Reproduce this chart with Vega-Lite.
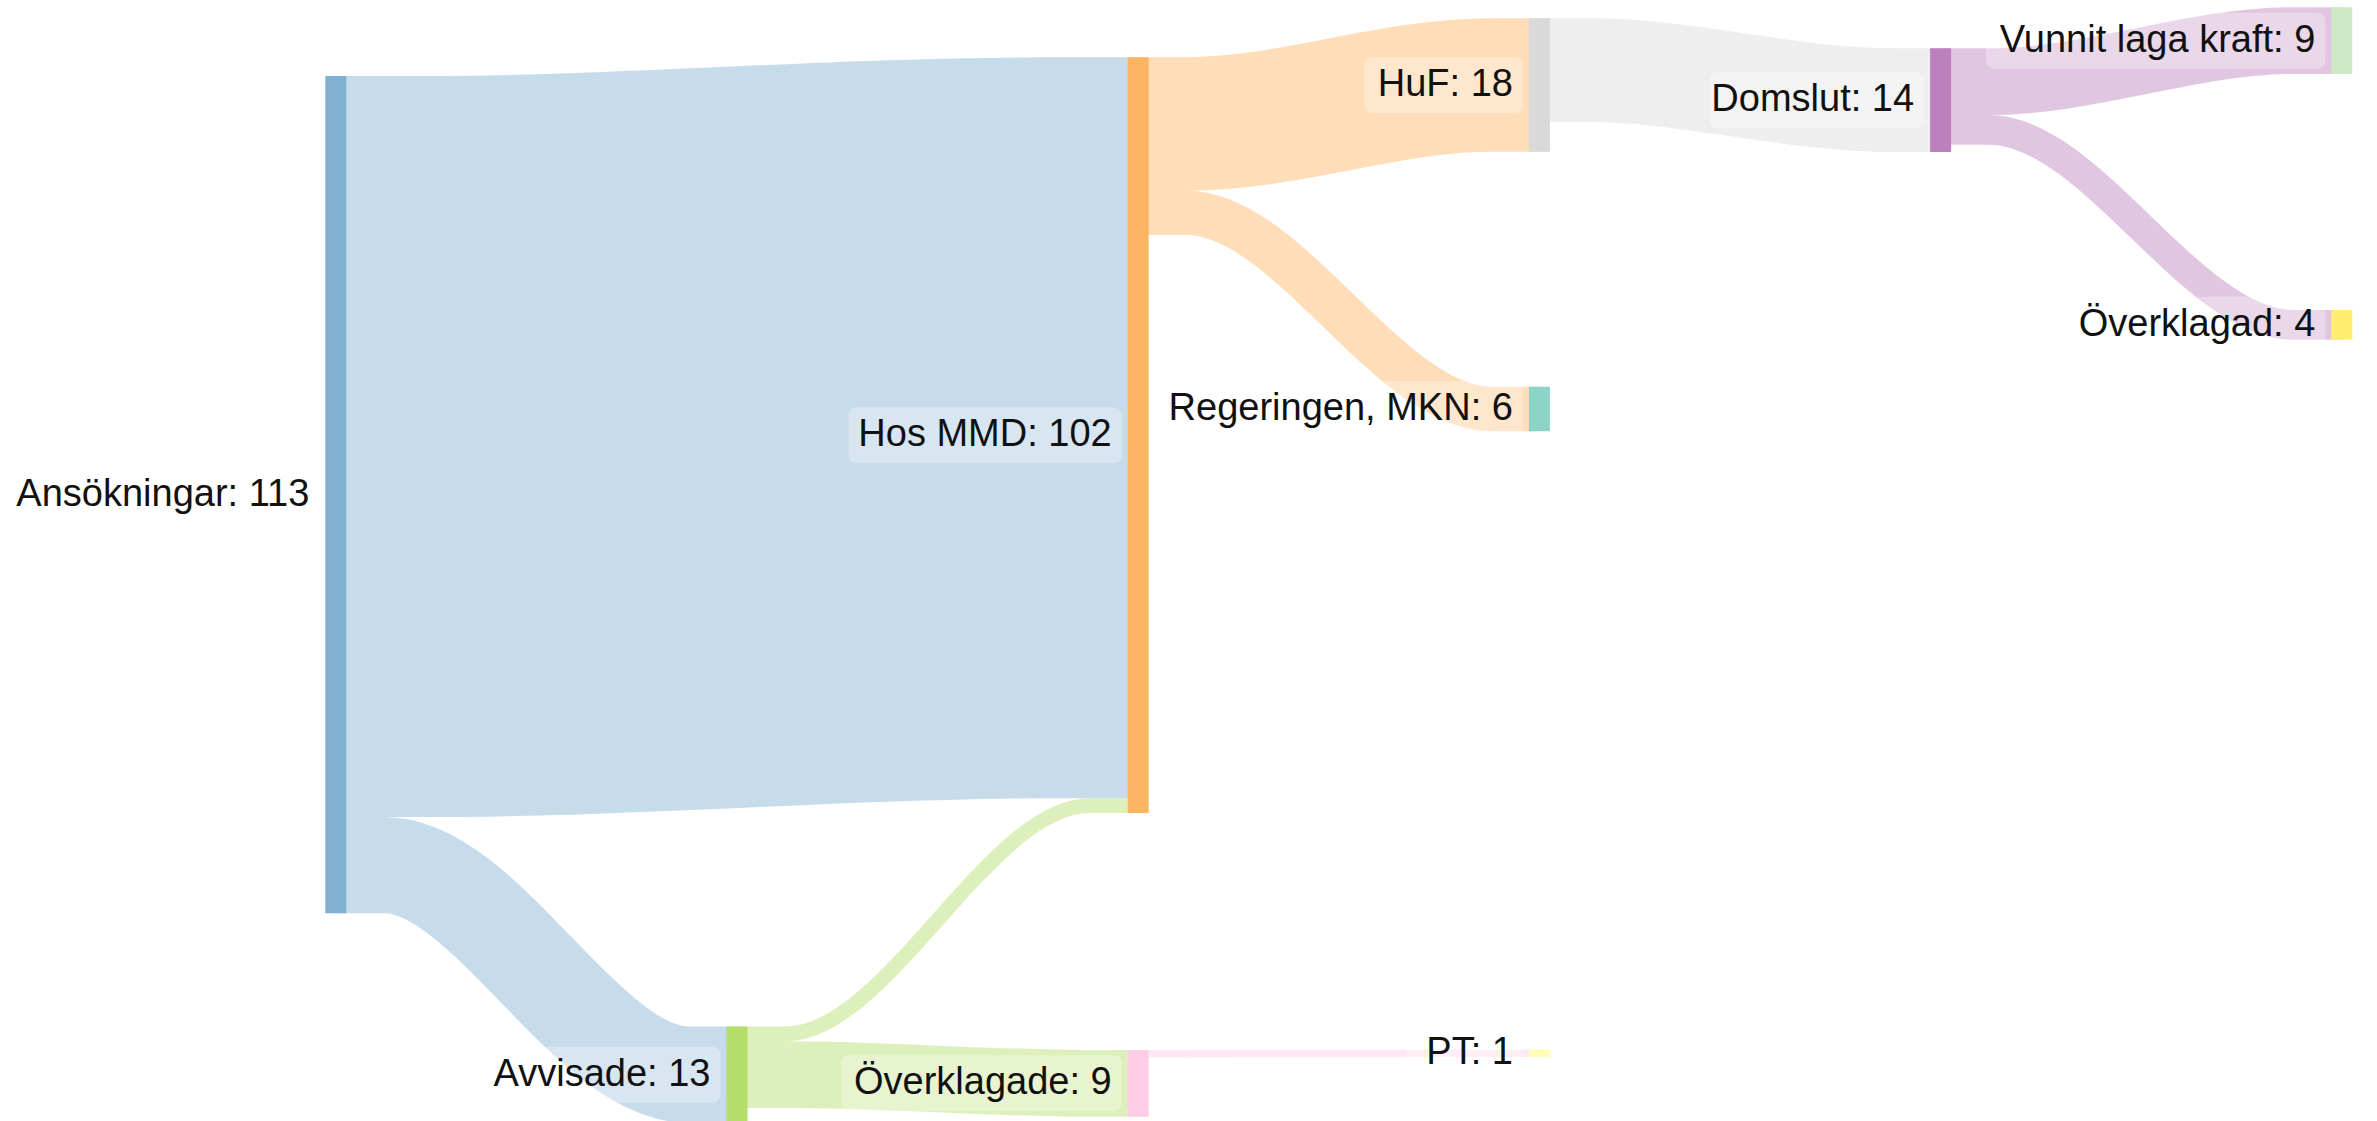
{
  "$schema": "https://vega.github.io/schema/vega-lite/v6.json",
  "width": 2377,
  "height": 1121,
  "autosize": "none",
  "padding": 0,
  "background": "white",
  "config": {"view": {"stroke": null}},
  "datasets": {
    "nodes": [
      {"name": "Ansökningar", "value": 113, "stage": 0, "top": 10.26},
      {"name": "Avvisade", "value": 13, "stage": 1, "top": 138.53},
      {"name": "Hos MMD", "value": 102, "stage": 2, "top": 7.73},
      {"name": "Överklagade", "value": 9, "stage": 2, "top": 141.7},
      {"name": "HuF", "value": 18, "stage": 3, "top": 2.47},
      {"name": "Regeringen, MKN", "value": 6, "stage": 3, "top": 52.19},
      {"name": "PT", "value": 1, "stage": 3, "top": 141.63},
      {"name": "Domslut", "value": 14, "stage": 4, "top": 6.52},
      {"name": "Vunnit laga kraft", "value": 9, "stage": 5, "top": 0.985},
      {"name": "Överklagad", "value": 4, "stage": 5, "top": 41.84}
    ],
    "links": [
      {"source": "Ansökningar", "target": "Hos MMD", "value": 100},
      {"source": "Ansökningar", "target": "Avvisade", "value": 13},
      {"source": "Avvisade", "target": "Hos MMD", "value": 2},
      {"source": "Avvisade", "target": "Överklagade", "value": 9},
      {"source": "Hos MMD", "target": "HuF", "value": 18},
      {"source": "Hos MMD", "target": "Regeringen, MKN", "value": 6},
      {"source": "Överklagade", "target": "PT", "value": 1},
      {"source": "HuF", "target": "Domslut", "value": 14},
      {"source": "Domslut", "target": "Vunnit laga kraft", "value": 9},
      {"source": "Domslut", "target": "Överklagad", "value": 4}
    ]
  },
  "layer": [
    {
      "data": {"name": "links"},
      "transform": [
        {"lookup": "source", "from": {"data": {"name": "nodes"}, "key": "name", "fields": ["top", "stage"]}, "as": ["sTop", "sStage"]},
        {"lookup": "target", "from": {"data": {"name": "nodes"}, "key": "name", "fields": ["top", "stage"]}, "as": ["tTop", "tStage"]},
        {"window": [{"op": "sum", "field": "value", "as": "sCum"}], "groupby": ["source"], "sort": [{"field": "tTop", "order": "ascending"}]},
        {"window": [{"op": "sum", "field": "value", "as": "tCum"}], "groupby": ["target"], "sort": [{"field": "sTop", "order": "ascending"}]},
        {"calculate": "datum.sTop + datum.sCum - datum.value / 2", "as": "sy"},
        {"calculate": "datum.tTop + datum.tCum - datum.value / 2", "as": "ty"},
        {"calculate": "0.021 + 0.1 * (datum.tStage - datum.sStage)", "as": "a"},
        {"calculate": "datum.sStage", "as": "p0"},
        {"calculate": "datum.sStage + datum.a", "as": "p1"},
        {"calculate": "datum.tStage - datum.a", "as": "p2"},
        {"calculate": "datum.tStage", "as": "p3"},
        {"fold": ["p0", "p1", "p2", "p3"], "as": ["pt", "px"]},
        {"calculate": "(datum.pt == 'p0' || datum.pt == 'p1') ? datum.sy : datum.ty", "as": "py"}
      ],
      "mark": {"type": "line", "interpolate": "monotone", "strokeOpacity": 0.45, "strokeCap": "butt"},
      "encoding": {
        "x": {"field": "px", "type": "quantitative", "axis": null, "scale": {"domain": [-0.837, 5.0877], "nice": false, "zero": false}},
        "y": {"field": "py", "type": "quantitative", "axis": null, "scale": {"domain": [0, 151.28], "reverse": true, "nice": false, "zero": false}},
        "detail": [{"field": "source"}, {"field": "target"}],
        "stroke": {
          "field": "source", "type": "nominal", "legend": null,
          "scale": {
            "domain": ["Ansökningar", "Avvisade", "Hos MMD", "Överklagade", "HuF", "Regeringen, MKN", "PT", "Domslut", "Vunnit laga kraft", "Överklagad"],
            "range": ["#80b1d3", "#b3de69", "#fdb462", "#fccde5", "#d9d9d9", "#8dd3c7", "#ffffb3", "#bc80bd", "#ccebc5", "#ffed6f"]
          }
        },
        "strokeWidth": {"field": "value", "type": "quantitative", "legend": null, "scale": {"domain": [0, 100], "range": [0, 741], "zero": true}}
      }
    },
    {
      "data": {"name": "nodes"},
      "transform": [
        {"calculate": "datum.name + ': ' + datum.value", "as": "label"},
        {"calculate": "datum.top + datum.value / 2", "as": "mid"},
        {"calculate": "0.556*length(datum.label) + 0.15*(length(datum.label)-length(replace(datum.label, regexp('[A-ZÖ]','g'), ''))) + 0.12*(length(datum.label)-length(replace(datum.label, regexp('M','g'), ''))) - 0.3*(length(datum.label)-length(replace(datum.label, regexp('[ilt:, f]','g'), ''))) - 0.22*(length(datum.label)-length(replace(datum.label, regexp('r','g'), '')))", "as": "wem"},
        {"calculate": "datum.stage - (38.5 + 38 * datum.wem) / 401.2", "as": "boxLeft"}
      ],
      "mark": {"type": "rect", "fill": "white", "opacity": 0.3, "cornerRadius": 8, "x2Offset": -16.5, "yOffset": -28, "y2Offset": 28},
      "encoding": {
        "x": {"field": "boxLeft", "type": "quantitative", "axis": null, "scale": {"domain": [-0.837, 5.0877], "nice": false, "zero": false}},
        "x2": {"field": "stage"},
        "y": {"field": "mid", "type": "quantitative", "axis": null, "scale": {"domain": [0, 151.28], "reverse": true, "nice": false, "zero": false}},
        "y2": {"field": "mid"}
      }
    },
    {
      "data": {"name": "nodes"},
      "transform": [
        {"calculate": "datum.top + datum.value", "as": "bottom"}
      ],
      "mark": {"type": "rect", "xOffset": -10.5, "x2Offset": 10.5},
      "encoding": {
        "x": {"field": "stage", "type": "quantitative", "axis": null, "scale": {"domain": [-0.837, 5.0877], "nice": false, "zero": false}},
        "x2": {"field": "stage"},
        "y": {"field": "top", "type": "quantitative", "axis": null, "scale": {"domain": [0, 151.28], "reverse": true, "nice": false, "zero": false}},
        "y2": {"field": "bottom"},
        "fill": {
          "field": "name", "type": "nominal", "legend": null,
          "scale": {
            "domain": ["Ansökningar", "Avvisade", "Hos MMD", "Överklagade", "HuF", "Regeringen, MKN", "PT", "Domslut", "Vunnit laga kraft", "Överklagad"],
            "range": ["#80b1d3", "#b3de69", "#fdb462", "#fccde5", "#d9d9d9", "#8dd3c7", "#ffffb3", "#bc80bd", "#ccebc5", "#ffed6f"]
          }
        }
      }
    },
    {
      "data": {"name": "nodes"},
      "transform": [
        {"calculate": "datum.name + ': ' + datum.value", "as": "label"},
        {"calculate": "datum.top + datum.value / 2", "as": "mid"}
      ],
      "mark": {"type": "text", "align": "right", "baseline": "middle", "dx": -26.5, "font": "Liberation Sans", "fontSize": 38, "fill": "#111111"},
      "encoding": {
        "x": {"field": "stage", "type": "quantitative", "axis": null, "scale": {"domain": [-0.837, 5.0877], "nice": false, "zero": false}},
        "y": {"field": "mid", "type": "quantitative", "axis": null, "scale": {"domain": [0, 151.28], "reverse": true, "nice": false, "zero": false}},
        "text": {"field": "label"}
      }
    }
  ]
}
